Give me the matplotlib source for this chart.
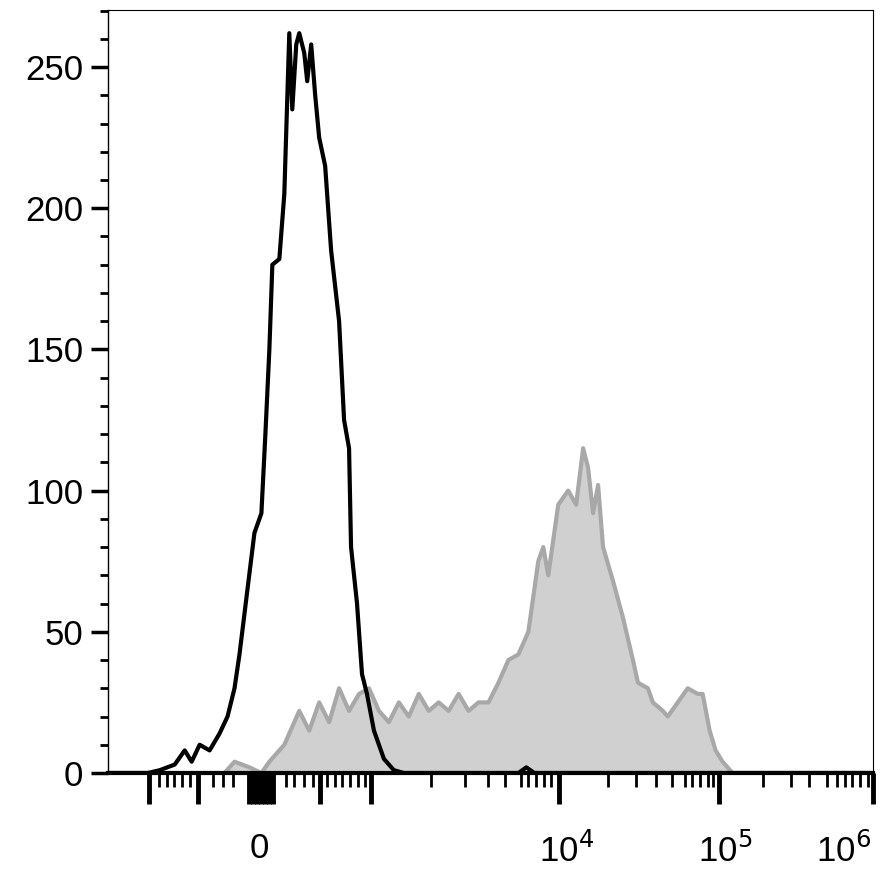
import numpy as np
import matplotlib.pyplot as plt

plt.rcParams['font.family'] = ['Liberation Sans', 'DejaVu Sans']

# x in display channel units (biexponential axis drawn as linear channels)
ctrl_x = [108, 148, 160, 175, 185, 192, 200, 210, 220, 228, 235, 240, 248, 255, 262, 266, 270,
          273, 280, 285, 290, 293, 297, 300, 305, 308, 312, 316, 320, 326, 332, 340, 345,
          350, 352, 358, 363, 368, 375, 385, 395, 405, 430, 520, 528, 536, 873]
ctrl_y = [0, 0, 1, 3, 8, 4, 10, 8, 14, 20, 30, 42, 65, 85, 92, 120, 150,
          180, 182, 205, 262, 235, 258, 262, 255, 245, 258, 240, 225, 215, 185, 160, 125,
          115, 80, 60, 35, 28, 15, 5, 1, 0, 0, 0, 2, 0, 0]

samp_x = [108, 225, 235, 250, 262, 270, 285, 295, 300, 310, 320, 330, 340, 350, 360, 370, 380,
          390, 400, 410, 420, 430, 440, 450, 460, 470, 480, 490, 500, 510, 520, 530, 540,
          545, 550, 560, 570, 578, 585, 590, 595, 600, 605, 615, 625, 635, 640, 650, 655,
          665, 670, 680, 690, 700, 705, 712, 718, 725, 735, 873]
samp_y = [0, 0, 4, 2, 0, 4, 10, 18, 22, 15, 25, 18, 30, 22, 28, 30, 22,
          18, 25, 20, 28, 22, 25, 22, 28, 22, 25, 25, 32, 40, 42, 50, 75,
          80, 70, 95, 100, 95, 115, 108, 92, 102, 80, 68, 55, 40, 32, 30, 25,
          22, 20, 25, 30, 28, 28, 15, 8, 4, 0, 0]

major_x = [149, 198, 250, 254, 258, 262, 266, 270, 274, 321, 372, 561, 721, 876]
minor_x = [159, 167, 174, 182, 190, 213, 223, 233, 287, 295, 305, 314, 328, 336, 343, 351,
           359, 366, 432, 466, 489, 507, 523, 530, 538, 546, 553, 610, 638, 658, 674, 687,
           694, 702, 710, 715, 766, 794, 812, 830, 840, 848, 855, 863, 871]
x_labels = [(260, '0'), (568, '10$^{4}$'), (728, '10$^{5}$'), (846, '10$^{6}$')]

fig = plt.figure(figsize=(8.89, 8.91), dpi=100)
ax = fig.add_axes([108 / 889, 1 - 773 / 891, (873 - 108) / 889, (773 - 10) / 891])

ax.fill_between(samp_x, samp_y, color='#d0d0d0', lw=0)
ax.plot(samp_x, samp_y, color='#a8a8a8', lw=3)
ax.plot(ctrl_x, ctrl_y, color='black', lw=3)

ax.set_xlim(108, 874)
ax.set_ylim(0, 270.2)

ax.set_yticks(np.arange(0, 251, 50))
ax.set_yticks(np.arange(0, 271, 10), minor=True)
ax.tick_params(axis='y', which='major', length=12, width=2.5, labelsize=25, pad=6)
ax.tick_params(axis='y', which='minor', length=6, width=2)

ax.set_xticks(major_x)
ax.set_xticks(minor_x, minor=True)
ax.set_xticklabels([])
ax.tick_params(axis='x', which='major', length=22, width=3.5)
ax.tick_params(axis='x', which='minor', length=10, width=2)
for xp, lab in x_labels:
    ax.text(xp, -21, lab, ha='center', va='top', fontsize=25)

ax.spines['bottom'].set_linewidth(3)
ax.spines['left'].set_linewidth(1)
ax.spines['top'].set_linewidth(0.8)
ax.spines['right'].set_linewidth(0.8)

fig.savefig('out.png', dpi=100)
